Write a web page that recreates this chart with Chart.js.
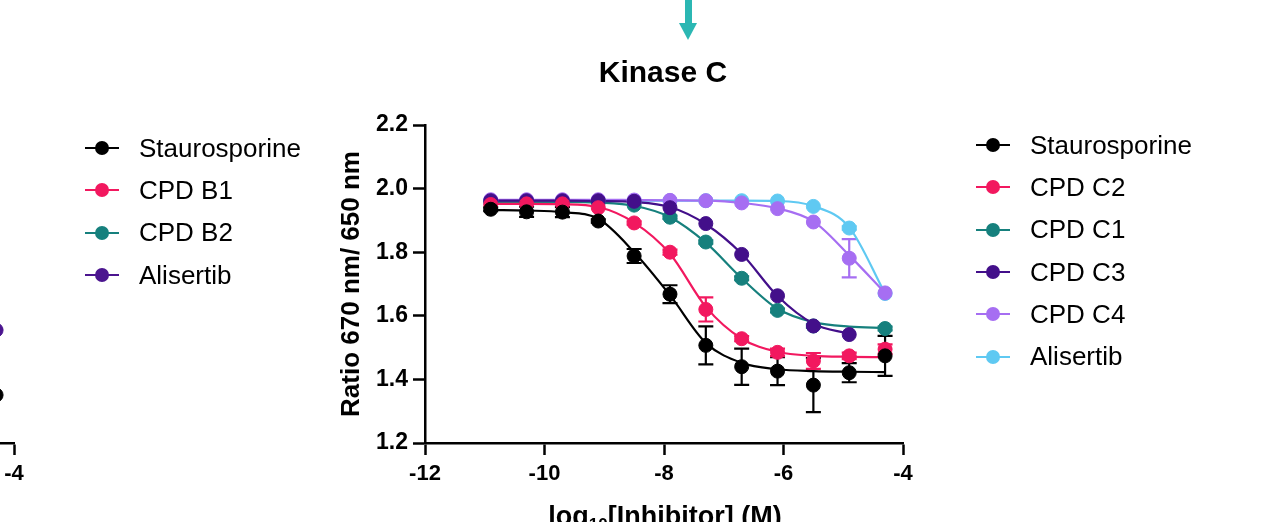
<!DOCTYPE html>
<html>
<head>
<meta charset="utf-8">
<script src="https://cdn.jsdelivr.net/npm/chart.js@4/dist/chart.umd.min.js"></script>
<style>
  html, body { margin: 0; padding: 0; background: #fff; }
  body { width: 1279px; height: 522px; overflow: hidden; position: relative; font-family: "Liberation Sans", Arial, sans-serif; }
  canvas { position: absolute; top: 0; }
  #mainChart { left: 0; }
  #leftChart { left: -600px; }
  .shaft { position: absolute; left: 685px; top: 0; width: 7px; height: 24px; background: #2bb7b3; }
  .head { position: absolute; left: 679px; top: 23px; width: 0; height: 0; border-left: 9.5px solid transparent; border-right: 9.5px solid transparent; border-top: 17px solid #2bb7b3; }
  #title { position: absolute; left: 563px; width: 200px; top: 57px; text-align: center; font-weight: bold; font-size: 30px; line-height: 30px; }
  #xTitle { position: absolute; left: 465px; width: 400px; top: 503px; text-align: center; font-weight: bold; font-size: 27px; line-height: 27px; white-space: nowrap; }
  #xTitle sub { font-size: 17px; vertical-align: baseline; position: relative; top: 5px; }
  .legend { position: absolute; font-size: 26px; }
  .legend .row { height: 42.3px; display: flex; align-items: center; white-space: nowrap; }
  .legend .mark { position: relative; width: 34px; height: 14px; margin-right: 20px; flex: none; }
  .legend .mark .ln { position: absolute; left: 0; right: 0; top: 6px; height: 2px; }
  .legend .mark .dot { position: absolute; left: 10px; top: 0; width: 14px; height: 14px; border-radius: 50%; }
</style>
</head>
<body>
<div class="shaft"></div><div class="head"></div>
<canvas id="leftChart" width="640" height="522"></canvas>
<canvas id="mainChart" width="1279" height="522"></canvas>
<div id="title">Kinase C</div>
<div id="xTitle">log<sub>10</sub>[Inhibitor] (M)</div>
<div class="legend" id="leftLegend" style="left:85px; top:127px;"></div>
<div class="legend" id="mainLegend" style="left:976px; top:124px;"></div>

<script>
// log10 concentrations of the dilution series
const logConc = [-10.9, -10.3, -9.7, -9.1, -8.5, -7.9, -7.3, -6.7, -6.1, -5.5, -4.9, -4.3];

const yTicks = [1.2, 1.4, 1.6, 1.8, 2.0, 2.2];
const xTicks = [-12, -10, -8, -6, -4];

// Kinase C series (mean, SD, fitted curve)
const stauroMean = [1.935, 1.927, 1.926, 1.898, 1.788, 1.668, 1.507, 1.440, 1.426, 1.382, 1.421, 1.474];
const stauroErr  = [0.006, 0.016, 0.016, 0.005, 0.022, 0.028, 0.060, 0.057, 0.044, 0.085, 0.030, 0.063];
const stauroFit  = [1.933, 1.931, 1.926, 1.905, 1.800, 1.665, 1.515, 1.452, 1.432, 1.426, 1.424, 1.423];

const c2Mean = [1.950, 1.952, 1.952, 1.940, 1.892, 1.800, 1.620, 1.528, 1.485, 1.458, 1.474, 1.495];
const c2Err  = [0, 0, 0, 0, 0.005, 0.008, 0.038, 0.008, 0.012, 0.025, 0.010, 0.015];
const c2Fit  = [1.952, 1.952, 1.951, 1.942, 1.893, 1.795, 1.628, 1.528, 1.487, 1.474, 1.471, 1.470];

const c1Mean = [1.958, 1.958, 1.958, 1.957, 1.948, 1.910, 1.832, 1.718, 1.617, 1.568, null, 1.560];
const c1Err  = [0, 0, 0, 0, 0, 0.005, 0.005, 0.006, 0.006, 0.005, 0, 0.006];
const c1Fit  = [1.958, 1.958, 1.958, 1.956, 1.946, 1.910, 1.830, 1.718, 1.622, 1.580, 1.566, 1.562];

const c3Mean = [1.962, 1.962, 1.962, 1.962, 1.960, 1.940, 1.890, 1.793, 1.663, 1.568, 1.541, null];
const c3Err  = [0, 0, 0, 0, 0, 0, 0, 0, 0, 0, 0, 0];
const c3Fit  = [1.962, 1.962, 1.962, 1.961, 1.958, 1.942, 1.888, 1.795, 1.662, 1.575, 1.543, null];

const c4Mean = [1.965, 1.965, 1.965, 1.965, 1.964, 1.963, 1.962, 1.955, 1.937, 1.895, 1.781, 1.672];
const c4Err  = [0, 0, 0, 0, 0, 0, 0, 0, 0, 0, 0.060, 0];
const c4Fit  = [1.965, 1.965, 1.965, 1.965, 1.964, 1.963, 1.962, 1.955, 1.938, 1.897, 1.790, 1.672];

const aliMean = [1.962, 1.962, 1.962, 1.962, 1.962, 1.962, 1.962, 1.962, 1.961, 1.944, 1.876, 1.670];
const aliErr  = [0, 0, 0, 0, 0, 0, 0, 0, 0, 0, 0.005, 0];
const aliFit  = [1.962, 1.962, 1.962, 1.962, 1.962, 1.962, 1.962, 1.962, 1.961, 1.945, 1.878, 1.670];

const names  = ['Staurosporine', 'CPD C2', 'CPD C1', 'CPD C3', 'CPD C4', 'Alisertib'];
const colors = ['#000000', '#f2185f', '#16807d', '#430f8a', '#a66ef2', '#5fc9f2'];
// lower = drawn on top
const drawRank = [0, 1, 3, 2, 4, 5];

// neighbouring Kinase B panel (only its right edge is in view)
const leftNames  = ['Staurosporine', 'CPD B1', 'CPD B2', 'Alisertib'];
const leftColors = ['#000000', '#f2185f', '#16807d', '#4b158f'];
const leftConc   = [-4.3];
const leftStauro = [1.351];
const leftAli    = [1.555];

const FONT = '"Liberation Sans", Arial, sans-serif';

const series = [
  { mean: stauroMean, err: stauroErr, fit: stauroFit },
  { mean: c2Mean, err: c2Err, fit: c2Fit },
  { mean: c1Mean, err: c1Err, fit: c1Fit },
  { mean: c3Mean, err: c3Err, fit: c3Fit },
  { mean: c4Mean, err: c4Err, fit: c4Fit },
  { mean: aliMean, err: aliErr, fit: aliFit },
];

const toPoints = (arr) => logConc.map((x, i) => ({ x: x, y: arr[i] })).filter(p => p.y != null);

const errorBars = {
  id: 'errorBars',
  beforeDatasetsDraw(chart) {
    const { ctx, scales: { x, y } } = chart;
    chart.data.datasets.forEach((ds) => {
      if (!ds.errors) return;
      ctx.save();
      ctx.strokeStyle = ds.borderColor;
      ctx.lineWidth = 2.2;
      ds.data.forEach((p, j) => {
        const e = ds.errors[j];
        if (!e) return;
        const px = x.getPixelForValue(p.x);
        const top = y.getPixelForValue(p.y + e);
        const bot = y.getPixelForValue(p.y - e);
        ctx.beginPath();
        ctx.moveTo(px, top); ctx.lineTo(px, bot);
        ctx.moveTo(px - 7.5, top); ctx.lineTo(px + 7.5, top);
        ctx.moveTo(px - 7.5, bot); ctx.lineTo(px + 7.5, bot);
        ctx.stroke();
      });
      ctx.restore();
    });
  }
};

const datasets = [];
series.forEach((s, i) => {
  datasets.push({
    label: names[i] + ' fit',
    data: toPoints(s.fit),
    showLine: true,
    pointRadius: 0,
    borderColor: colors[i],
    borderWidth: 2.2,
    cubicInterpolationMode: 'monotone',
    order: 20 + drawRank[i],
  });
});
series.forEach((s, i) => {
  const pts = logConc.map((x, j) => ({ x: x, y: s.mean[j], e: s.err[j] })).filter(p => p.y != null);
  datasets.push({
    label: names[i],
    data: pts.map(p => ({ x: p.x, y: p.y })),
    errors: pts.map(p => p.e),
    showLine: false,
    pointRadius: 7,
    pointBackgroundColor: colors[i],
    pointBorderColor: colors[i],
    borderColor: colors[i],
    backgroundColor: colors[i],
    order: drawRank[i],
  });
});

function axisX(height) {
  return {
    type: 'linear', min: xTicks[0], max: xTicks[xTicks.length - 1],
    afterBuildTicks: (ax) => { ax.ticks = xTicks.map(v => ({ value: v })); },
    ticks: { color: '#000', font: { family: FONT, size: 22, weight: 'bold' }, padding: 6, maxRotation: 0 },
    grid: { drawOnChartArea: false, tickLength: 12, tickColor: '#000', tickWidth: 2.5 },
    border: { display: true, color: '#000', width: 2.5 },
    afterFit: (ax) => { ax.height = height; },
  };
}

new Chart(document.getElementById('mainChart'), {
  type: 'scatter',
  data: { datasets: datasets },
  options: {
    responsive: false, animation: false, devicePixelRatio: 1,
    layout: { padding: { left: 330, right: 376, top: 125, bottom: 19 } },
    plugins: { legend: { display: false }, tooltip: { enabled: false } },
    scales: {
      x: axisX(60),
      y: {
        type: 'linear', min: yTicks[0], max: yTicks[yTicks.length - 1],
        afterBuildTicks: (ax) => { ax.ticks = yTicks.map(v => ({ value: v })); },
        ticks: { color: '#000', font: { family: FONT, size: 23, weight: 'bold' }, padding: 5,
                 callback: (v) => v.toFixed(1) },
        grid: { drawOnChartArea: false, tickLength: 12, tickColor: '#000', tickWidth: 2.5 },
        border: { display: true, color: '#000', width: 2.5 },
        title: { display: true, text: 'Ratio 670 nm/ 650 nm', color: '#000',
                 font: { family: FONT, size: 26, weight: 'bold' }, padding: { top: 6, bottom: 0 } },
        afterFit: (ax) => { ax.width = 95; },
      },
    },
  },
  plugins: [errorBars],
});

new Chart(document.getElementById('leftChart'), {
  type: 'scatter',
  data: {
    datasets: [
      { label: leftNames[0], data: leftConc.map((x, i) => ({ x: x, y: leftStauro[i] })),
        pointRadius: 7, pointBackgroundColor: leftColors[0], pointBorderColor: leftColors[0] },
      { label: leftNames[3], data: leftConc.map((x, i) => ({ x: x, y: leftAli[i] })),
        pointRadius: 7, pointBackgroundColor: leftColors[3], pointBorderColor: leftColors[3] },
    ],
  },
  options: {
    responsive: false, animation: false, devicePixelRatio: 1,
    layout: { padding: { left: 136, right: 26, top: 125, bottom: 19 } },
    plugins: { legend: { display: false }, tooltip: { enabled: false } },
    scales: {
      x: axisX(60),
      y: { type: 'linear', min: yTicks[0], max: yTicks[yTicks.length - 1], display: false },
    },
  },
});

function buildLegend(el, labels, cols) {
  labels.forEach((name, i) => {
    const row = document.createElement('div');
    row.className = 'row';
    row.innerHTML = '<div class="mark"><div class="ln" style="background:' + cols[i] + '"></div>' +
      '<div class="dot" style="background:' + cols[i] + '"></div></div><span></span>';
    row.querySelector('span').textContent = name;
    el.appendChild(row);
  });
}
buildLegend(document.getElementById('mainLegend'), names, colors);
buildLegend(document.getElementById('leftLegend'), leftNames, leftColors);
</script>
</body>
</html>
